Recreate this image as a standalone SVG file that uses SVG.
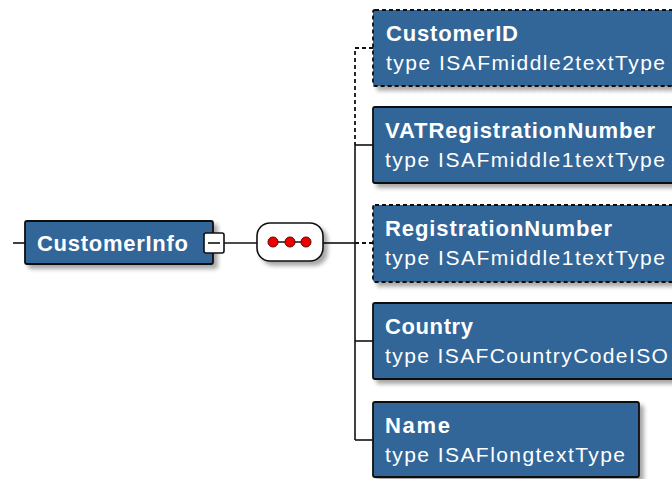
<svg xmlns="http://www.w3.org/2000/svg" width="672" height="479" viewBox="0 0 672 479">
<defs>
<filter id="sh" x="-10%" y="-10%" width="130%" height="140%">
<feGaussianBlur in="SourceAlpha" stdDeviation="2"/>
<feOffset dx="4" dy="4" result="b"/>
<feComponentTransfer><feFuncA type="linear" slope="0.35"/></feComponentTransfer>
<feMerge><feMergeNode/><feMergeNode in="SourceGraphic"/></feMerge>
</filter>
<style>
.box{fill:#336699;stroke:#111;stroke-width:1.8}
.opt{stroke-dasharray:4 3}
.t{font-family:"Liberation Sans",Arial,sans-serif;font-weight:bold;font-size:22px;fill:#fff}
.s{font-family:"Liberation Sans",Arial,sans-serif;font-size:21px;fill:#fff}
.ln{stroke:#111;stroke-width:1.6;fill:none}
.dl{stroke:#111;stroke-width:1.8;fill:none;stroke-dasharray:4 3}
.dot{fill:#e00;stroke:#600;stroke-width:1}
</style>
</defs>
<rect width="672" height="479" fill="#fff"/>
<g id="connectors">
<line class="ln" x1="13" y1="243" x2="25" y2="243"/>
<line class="ln" x1="224" y1="243" x2="257" y2="243"/>
<line class="ln" x1="323" y1="243" x2="355" y2="243"/>
<polyline class="dl" points="373,48 355,48 355,145"/>
<line class="ln" x1="355" y1="145" x2="355" y2="440"/>
<line class="ln" x1="355" y1="145" x2="373" y2="145"/>
<line class="dl" x1="355" y1="243" x2="373" y2="243"/>
<line class="ln" x1="355" y1="341" x2="373" y2="341"/>
<line class="ln" x1="355" y1="440" x2="373" y2="440"/>
</g>
<g id="CustomerInfo">
<rect class="box" x="25" y="221" width="188" height="43" rx="2" filter="url(#sh)"/>
<text class="t" x="37" y="251" textLength="151" lengthAdjust="spacing">CustomerInfo</text>
<rect x="204" y="233" width="20" height="20" rx="2" fill="#fff" stroke="#111" stroke-width="1.6"/>
<line class="ln" x1="208" y1="243" x2="220" y2="243"/>
</g>
<g id="sequence">
<rect x="257" y="223" width="66" height="38" rx="13" fill="#fff" stroke="#111" stroke-width="1.6" filter="url(#sh)"/>
<line class="ln" x1="273" y1="242" x2="306" y2="242"/>
<circle class="dot" cx="273" cy="242" r="5"/>
<circle class="dot" cx="290" cy="242" r="5"/>
<circle class="dot" cx="306" cy="242" r="5"/>
</g>
<g id="CustomerID">
<rect class="box opt" x="373" y="10" width="320" height="76" rx="2" filter="url(#sh)"/>
<text class="t" x="386" y="41" textLength="132" lengthAdjust="spacing">CustomerID</text>
<text class="s" x="386" y="70" textLength="279" lengthAdjust="spacing">type ISAFmiddle2textType</text>
</g>
<g id="VATRegistrationNumber">
<rect class="box" x="373" y="107" width="320" height="76" rx="2" filter="url(#sh)"/>
<text class="t" x="385" y="138" textLength="270" lengthAdjust="spacing">VATRegistrationNumber</text>
<text class="s" x="385" y="167" textLength="280" lengthAdjust="spacing">type ISAFmiddle1textType</text>
</g>
<g id="RegistrationNumber">
<rect class="box opt" x="373" y="205" width="320" height="77" rx="2" filter="url(#sh)"/>
<text class="t" x="385" y="236" textLength="227" lengthAdjust="spacing">RegistrationNumber</text>
<text class="s" x="385" y="265" textLength="280" lengthAdjust="spacing">type ISAFmiddle1textType</text>
</g>
<g id="Country">
<rect class="box" x="373" y="303" width="320" height="76" rx="2" filter="url(#sh)"/>
<text class="t" x="385" y="334" textLength="88" lengthAdjust="spacing">Country</text>
<text class="s" x="385" y="363" letter-spacing="1.4">type ISAFCountryCodeISO</text>
</g>
<g id="Name">
<rect class="box" x="373" y="402" width="266" height="75" rx="2" filter="url(#sh)"/>
<text class="t" x="385" y="433" textLength="65" lengthAdjust="spacing">Name</text>
<text class="s" x="385" y="462" textLength="240" lengthAdjust="spacing">type ISAFlongtextType</text>
</g>
</svg>
